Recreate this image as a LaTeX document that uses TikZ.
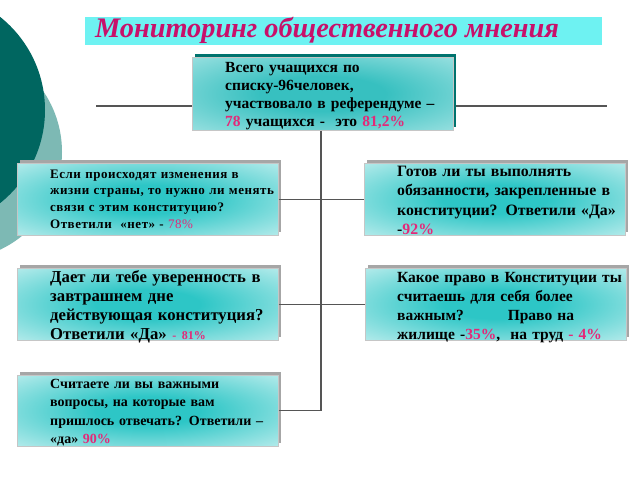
\documentclass[tikz,border=0pt]{standalone}
\usepackage{fontspec}
\setmainfont{Liberation Serif}
\usetikzlibrary{shadows}
\definecolor{darkteal}{RGB}{0,102,96}
\definecolor{lightteal}{RGB}{125,185,180}
\definecolor{titlebg}{RGB}{110,242,242}
\definecolor{titlefg}{RGB}{200,16,106}
\definecolor{pinkc}{RGB}{228,40,120}
\definecolor{boxteal}{RGB}{45,198,198}
\definecolor{cteal}{RGB}{55,192,192}
\definecolor{cedge}{RGB}{225,248,248}
\definecolor{cshadow}{RGB}{0,115,110}
\definecolor{lineg}{RGB}{85,85,85}
\pgfdeclareradialshading{boxshade}{\pgfpoint{0bp}{0bp}}{color(0bp)=(boxteal); color(10bp)=(boxteal); color(50bp)=(white); color(71bp)=(white)}
\pgfdeclareradialshading{centershade}{\pgfpoint{0bp}{0bp}}{color(0bp)=(cteal); color(12bp)=(cteal); color(54bp)=(cedge); color(71bp)=(cedge)}
\newcommand\pk[1]{\textcolor{pinkc}{#1}}
\begin{document}
\begin{tikzpicture}[x=1pt,y=-1pt,
  qbox/.style={rectangle, draw=gray!45, line width=0.5pt, shade, shading=boxshade,
    anchor=north west, inner sep=0pt, minimum width=261pt, minimum height=72pt,
    drop shadow={shadow xshift=3pt, shadow yshift=3pt, fill=gray!70, opacity=1}},
  cbox/.style={rectangle, draw=gray!45, line width=0.5pt, shade, shading=centershade,
    anchor=north west, inner sep=0pt, minimum width=261pt, minimum height=73pt,
    drop shadow={shadow xshift=3pt, shadow yshift=3pt, fill=cshadow, opacity=1}},
  qtext/.style={anchor=base west, inner sep=0pt, align=left, text width=250pt},
  conn/.style={draw=lineg, line width=1.3pt}
]
\useasboundingbox (0,0) rectangle (640,480);
\clip (0,0) rectangle (640,480);
\fill[white] (0,0) rectangle (640,480);
% decoration
\fill[lightteal] (-46,152) circle (108);
\fill[darkteal] (-74,110) circle (119);
% title
\node[fill=titlebg, anchor=north west, inner sep=0pt, minimum width=517pt, minimum height=28pt] (titlebox) at (85,17) {};
\node[anchor=base west, inner sep=0pt, text=titlefg, font=\fontsize{28.3}{28}\selectfont\bfseries\itshape] (title) at (95,37) {Мониторинг общественного мнения};
% connectors
\coordinate (hl) at (96,106);
\coordinate (hr) at (607,106);
\coordinate (vend) at (321,411);
\draw[conn] (hl) -- (hr);
% boxes
\node[cbox] (top) at (192,57) {};
\node[qbox] (l1) at (17,163) {};
\node[qbox] (r1) at (364,163) {};
\node[qbox] (l2) at (17,268) {};
\node[qbox] (r2) at (365,268) {};
\node[qbox, minimum height=71pt] (l3) at (17,375) {};
\draw[conn] (top.south -| vend) -- (vend);
\draw[conn] (l1.east) -- (r1.west);
\draw[conn] (l2.east) -- (r2.west);
\draw[conn] (l3.east) -- (l3.east -| vend);
% texts
\node[qtext, font=\fontsize{15.5}{18}\selectfont\bfseries] (ttop) at (225,72)
  {Всего учащихся по\\списку-96человек,\\участвовало в референдуме –\\\pk{78} учащихся -\ \ это \pk{81,2\%}};
\node[qtext, font=\fontsize{13}{16.8}\selectfont\bfseries\addfontfeature{LetterSpace=4}] (tl1) at (50,178)
  {Если происходят изменения в\\жизни страны, то нужно ли менять\\связи с этим конституцию?\\Ответили \ «нет» - \pk{\mdseries 78\%}};
\node[qtext, font=\fontsize{15.8}{19.5}\selectfont\bfseries] (tr1) at (397,176)
  {Готов ли ты выполнять\\обязанности, закрепленные в\\конституции? Ответили «Да»\\-\pk{92\%}};
\node[qtext, font=\fontsize{16.7}{19}\selectfont\bfseries] (tl2) at (50,282)
  {Дает ли тебе уверенность в\\завтрашнем дне\\действующая конституция?\\Ответили «Да» \pk{\fontsize{12}{12}\selectfont - 81\%}};
\node[qtext, font=\fontsize{15.5}{19.3}\selectfont\bfseries] (tr2) at (397,282)
  {Какое право в Конституции ты\\считаешь для себя более\\важным? \qquad\ Право на\\жилище -\pk{35\%},\ \ на труд \pk{- 4\%}};
\node[qtext, font=\fontsize{14}{18.5}\selectfont\bfseries] (tl3) at (50,388)
  {Считаете ли вы важными\\вопросы, на которые вам\\пришлось отвечать? Ответили –\\«да» \pk{90\%}};
\end{tikzpicture}
\end{document}
